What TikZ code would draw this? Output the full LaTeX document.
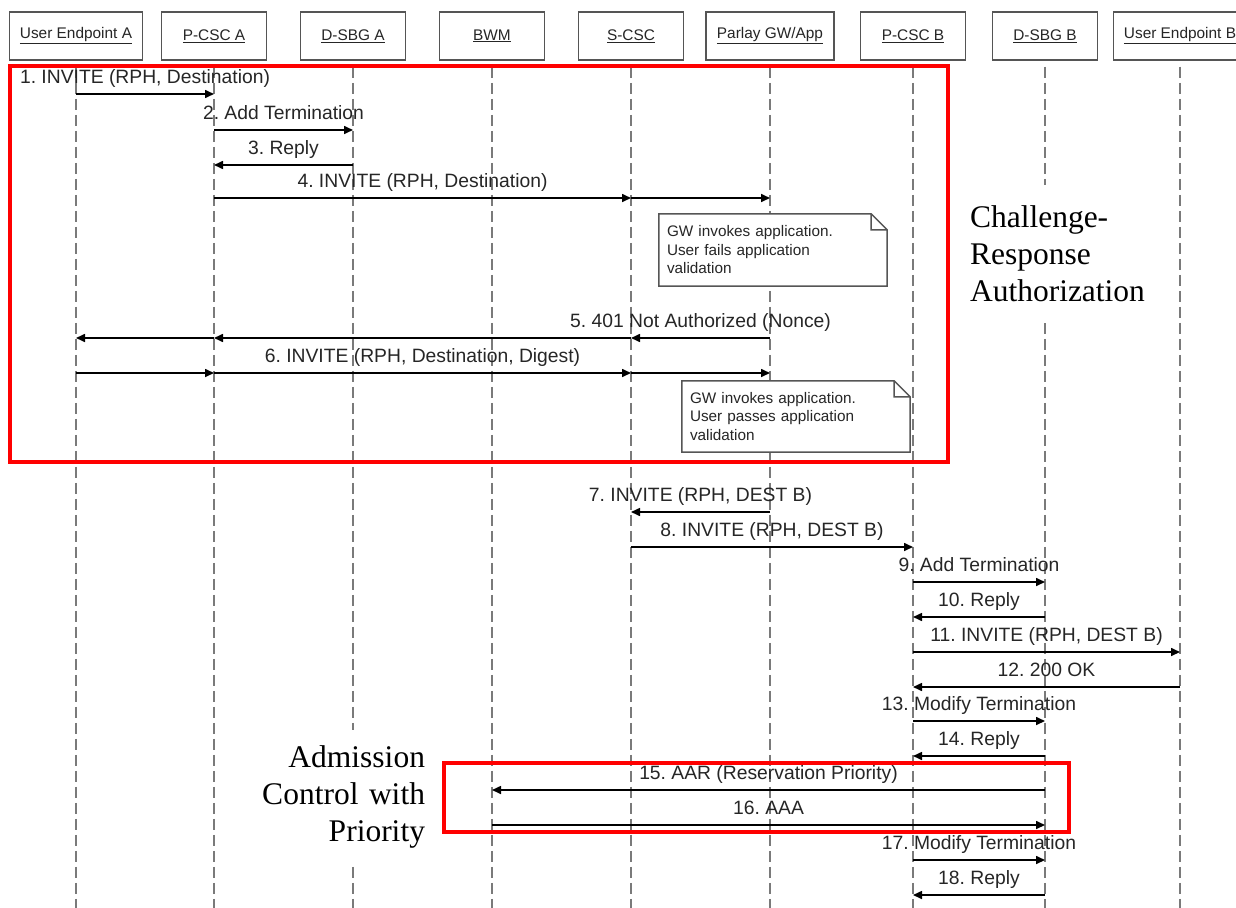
\documentclass[tikz,border=0pt]{standalone}
\usepackage{fontspec}
\usepackage{tikz}
\usetikzlibrary{arrows.meta}
\newfontfamily\lblfont{Liberation Sans}
\newfontfamily\capfont{Liberation Serif}
\definecolor{linegray}{HTML}{7A7A7A}
\definecolor{boxgray}{HTML}{555555}
\definecolor{textgray}{HTML}{262626}
\frenchspacing
\newcommand{\msg}[5]{
  \coordinate (#1-s) at (#2 |- 0,#4);
  \coordinate (#1-e) at (#3 |- 0,#4);
  \draw[msgarrow] (#1-s) -- node[msglabel]{#5} (#1-e);
}
\tikzset{
  headbox/.style = {draw=boxgray, line width=1.5pt, fill=white,
                    minimum height=48pt, minimum width=105pt,
                    font=\lblfont\fontsize{15.4}{18}\selectfont, text=textgray},
  lifeline/.style = {draw=linegray, line width=2pt, dash pattern=on 11pt off 5pt},
  msgarrow/.style = {line width=1.6pt, -{Triangle[length=9pt,width=8pt]}},
  msglabel/.style = {midway, anchor=base, yshift=11pt, inner sep=0pt,
                     font=\lblfont\fontsize{19.3}{22}\selectfont, text=textgray},
  notebox/.style  = {fill=white, minimum width=228pt, minimum height=72pt,
                     text width=212pt, inner xsep=8pt, inner ysep=0pt, align=left,
                     font=\lblfont\fontsize{15.3}{18.5}\selectfont, text=textgray},
  notefold/.style = {draw=boxgray, line width=1.5pt},
  cappatch/.style = {fill=white, inner xsep=2pt,
                     font=\capfont\fontsize{31.5}{37}\selectfont, text=black},
  redbox/.style   = {draw=red, line width=4pt}
}

\begin{document}
\begin{tikzpicture}[x=1pt, y=-1pt]
  \clip (0,0) rectangle (1236,907);
  \fill[white] (0,0) rectangle (1236,907);

  % heads
  \node[headbox, minimum width=133pt] (uea) at (76,36) {\underline{User Endpoint A}};
  \node[headbox] (pca) at (214,36) {\underline{P-CSC A}};
  \node[headbox] (dsa) at (353,36) {\underline{D-SBG A}};
  \node[headbox] (bwm) at (492,36) {\underline{BWM}};
  \node[headbox] (scsc) at (631,36) {\underline{S-CSC}};
  \node[headbox, minimum width=128pt] (gw) at (770,36) {\underline{Parlay GW/App}};
  \node[headbox] (pcb) at (913,36) {\underline{P-CSC B}};
  \node[headbox] (dsb) at (1045,36) {\underline{D-SBG B}};
  \node[headbox, minimum width=133pt] (ueb) at (1180,36) {\underline{User Endpoint B}};

  \foreach \who in {uea,pca,dsa,bwm,scsc,gw,pcb,dsb,ueb}
    \draw[lifeline] (\who.south) ++(0,6) -- (\who |- 0,912);

  % notes and side texts
  \node[notebox] (note1) at (773,250) {GW invokes application.\\User fails application\\validation};
  \draw[notefold] (note1.south west) -- (note1.north west) -- ([xshift=-16pt]note1.north east)
    -- ([yshift=-16pt]note1.north east) -- (note1.south east) -- cycle
    ([xshift=-16pt]note1.north east) |- ([yshift=-16pt]note1.north east);
  \node[notebox, minimum height=71pt] (note2) at (796,416.5) {GW invokes application.\\User passes application\\validation};
  \draw[notefold] (note2.south west) -- (note2.north west) -- ([xshift=-16pt]note2.north east)
    -- ([yshift=-16pt]note2.north east) -- (note2.south east) -- cycle
    ([xshift=-16pt]note2.north east) |- ([yshift=-16pt]note2.north east);

  \node[cappatch, align=left, text width=196pt, minimum width=200pt, minimum height=138pt]
    (crtext) at (1068,254) {Challenge-\\Response\\Authorization};
  \node[cappatch, align=right, text width=193pt, minimum width=197pt, minimum height=133pt]
    (actext) at (328.5,796.5) {Admission\\Control with\\Priority};

  % messages
  \msg{m1}{uea}{pca}{94}{1. INVITE (RPH, Destination)}
  \msg{m2}{pca}{dsa}{130}{2. Add Termination}
  \msg{m3}{dsa}{pca}{165}{3. Reply}
  \msg{m4}{pca}{scsc}{198}{4. INVITE (RPH, Destination)}
  \msg{m4b}{scsc}{gw}{198}{}
  \msg{m5}{gw}{scsc}{338}{5. 401 Not Authorized (Nonce)}
  \msg{m5b}{scsc}{pca}{338}{}
  \msg{m5c}{pca}{uea}{338}{}
  \msg{m6}{uea}{pca}{373}{}
  \msg{m6b}{pca}{scsc}{373}{6. INVITE (RPH, Destination, Digest)}
  \msg{m6c}{scsc}{gw}{373}{}
  \msg{m7}{gw}{scsc}{512}{7. INVITE (RPH, DEST B)}
  \msg{m8}{scsc}{pcb}{547}{8. INVITE (RPH, DEST B)}
  \msg{m9}{pcb}{dsb}{582}{9. Add Termination}
  \msg{m10}{dsb}{pcb}{617}{10. Reply}
  \msg{m11}{pcb}{ueb}{652}{11. INVITE (RPH, DEST B)}
  \msg{m12}{ueb}{pcb}{687}{12. 200 OK}
  \msg{m13}{pcb}{dsb}{721}{13. Modify Termination}
  \msg{m14}{dsb}{pcb}{756}{14. Reply}
  \msg{m15}{dsb}{bwm}{790}{15. AAR (Reservation Priority)}
  \msg{m16}{bwm}{dsb}{825}{16. AAA}
  \msg{m17}{pcb}{dsb}{860}{17. Modify Termination}
  \msg{m18}{dsb}{pcb}{895}{18. Reply}

  % highlighted groups
  \draw[redbox] (10,66) rectangle (948,462);
  \draw[redbox] (444,763) rectangle (1069,832);
\end{tikzpicture}
\end{document}
